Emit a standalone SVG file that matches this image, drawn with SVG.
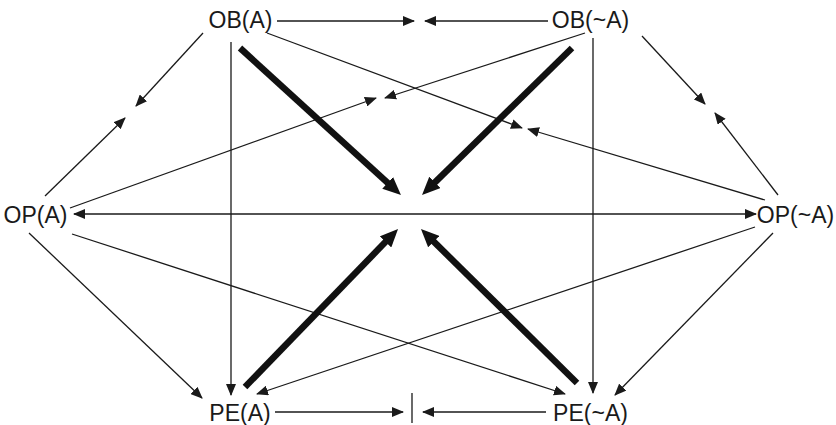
<svg xmlns="http://www.w3.org/2000/svg" width="836" height="425" viewBox="0 0 836 425">
<style>
.lbl{font-family:"Liberation Sans",Arial,sans-serif;font-size:23px;fill:#1a1a1a;text-anchor:middle}
.thin{stroke:#1a1a1a;stroke-width:1.3;fill:none;marker-end:url(#ah)}
.thick{stroke:#111;stroke-width:6.5;fill:none;marker-end:url(#ahb)}
</style>
<defs>
<marker id="ah" markerUnits="userSpaceOnUse" markerWidth="12" markerHeight="10" refX="11" refY="5" orient="auto-start-reverse"><path d="M0,0 L12,5 L0,10 z" fill="#1a1a1a"/></marker>
<marker id="ahb" markerUnits="userSpaceOnUse" markerWidth="18" markerHeight="16" refX="6" refY="8" orient="auto"><path d="M0,0 L18,8 L0,16 z" fill="#111"/></marker>
</defs>
<rect width="836" height="425" fill="#fff"/>
<g id="connectors">
<line class="thin" x1="277" y1="21" x2="414" y2="21"/>
<line class="thin" x1="548" y1="21" x2="425" y2="21"/>
<line class="thin" x1="275" y1="412" x2="403" y2="412"/>
<line class="thin" x1="546" y1="412" x2="423" y2="412"/>
<line x1="412" y1="393" x2="412" y2="423" stroke="#1a1a1a" stroke-width="1.3"/>
<line class="thin" x1="74" y1="214" x2="756" y2="214" marker-start="url(#ah)"/>
<line class="thin" x1="203" y1="33" x2="136" y2="106"/>
<line class="thin" x1="45" y1="196" x2="125" y2="118"/>
<line class="thin" x1="642" y1="36" x2="705" y2="104"/>
<line class="thin" x1="778" y1="195" x2="715" y2="113"/>
<line class="thin" x1="267" y1="33" x2="522" y2="128"/>
<line class="thin" x1="765" y1="200" x2="528" y2="129"/>
<line class="thin" x1="585" y1="33" x2="385" y2="98"/>
<line class="thin" x1="70" y1="208" x2="376" y2="98"/>
<line class="thin" x1="231" y1="42" x2="231" y2="395"/>
<line class="thin" x1="593" y1="38" x2="593" y2="393"/>
<line class="thin" x1="72" y1="234" x2="565" y2="394"/>
<line class="thin" x1="755" y1="227" x2="257" y2="394"/>
<line class="thin" x1="29" y1="233" x2="202" y2="398"/>
<line class="thin" x1="773" y1="233" x2="615" y2="395"/>
<line class="thick" x1="240" y1="48" x2="392.1" y2="186.9"/>
<line class="thick" x1="572" y1="48" x2="430.6" y2="186.6"/>
<line class="thick" x1="245" y1="387" x2="389.7" y2="237.6"/>
<line class="thick" x1="577" y1="383" x2="429.5" y2="237.4"/>
</g>
<g id="OB_A"><text class="lbl" x="240.5" y="28">OB(A)</text></g>
<g id="OB_notA"><text class="lbl" x="590.5" y="28">OB(~A)</text></g>
<g id="OP_A"><text class="lbl" x="35.5" y="223">OP(A)</text></g>
<g id="OP_notA"><text class="lbl" x="795.5" y="223">OP(~A)</text></g>
<g id="PE_A"><text class="lbl" x="240" y="421">PE(A)</text></g>
<g id="PE_notA"><text class="lbl" x="590.5" y="421">PE(~A)</text></g>
</svg>
